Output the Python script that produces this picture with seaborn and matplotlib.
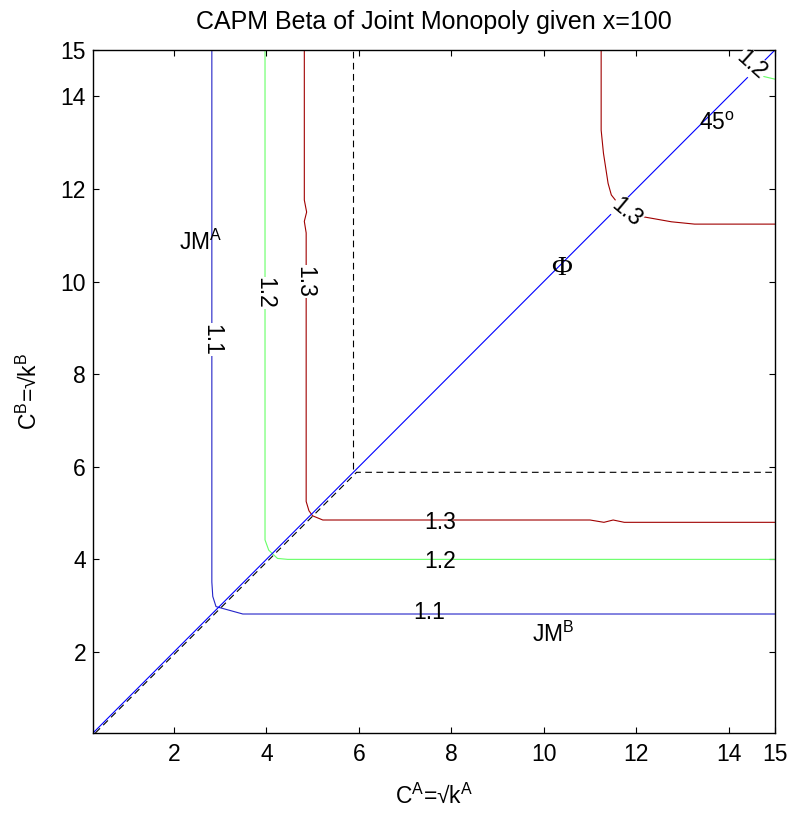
import numpy as np
import pandas as pd
import matplotlib
matplotlib.use("Agg")
import matplotlib.pyplot as plt
import seaborn as sns

# contour lines (x = C^A, y = C^B)
c11_x = [2.82, 2.82, 2.84, 2.91, 3.49, 15.0]
c11_y = [15.0, 3.51, 3.20, 2.98, 2.82, 2.82]
c12_x = [3.97, 3.97, 4.05, 4.24, 4.46, 15.0]
c12_y = [15.0, 4.42, 4.20, 4.02, 4.00, 4.00]
c12b_x = [14.37, 14.45, 15.0]
c12b_y = [15.0, 14.5, 14.37]
c13_x = [4.82, 4.82, 4.87, 4.82, 4.86, 4.86, 4.92, 5.00, 5.22, 11.0, 11.3, 11.5, 11.74, 15.0]
c13_y = [15.0, 11.76, 11.5, 11.3, 11.05, 5.25, 5.05, 4.94, 4.85, 4.85, 4.80, 4.85, 4.80, 4.80]
c13b_x = [11.24, 11.24, 11.29, 11.39, 11.46, 11.57, 11.72, 12.14, 12.76, 13.26, 15.0]
c13b_y = [15.0, 13.27, 12.77, 12.12, 11.87, 11.73, 11.60, 11.40, 11.29, 11.24, 11.24]

diag_x = [0.25, 15.0]
diag_y = [0.25, 15.0]
dash_x = [0.30, 5.95, 15.0]
dash_y = [0.25, 5.88, 5.88]
dashv_x = [5.88, 5.88]
dashv_y = [5.95, 15.0]

xticks = [2, 4, 6, 8, 10, 12, 14, 15]
yticks = [2, 4, 6, 8, 10, 12, 14, 15]

sns.set_style("ticks", {'text.color': 'black', 'axes.labelcolor': 'black',
                        'xtick.color': 'black', 'ytick.color': 'black',
                        'axes.edgecolor': 'black'})
plt.rcParams['font.family'] = ['Liberation Sans', 'DejaVu Sans']
plt.rcParams['mathtext.fontset'] = 'custom'
plt.rcParams['mathtext.rm'] = 'Liberation Sans'
plt.rcParams['mathtext.it'] = 'Liberation Sans'

fig = plt.figure(figsize=(7.93, 8.17), dpi=100)
ax = fig.add_axes([0.1173, 0.1028, 0.86, 0.836])

blue = '#2424c8'
green = '#66ff66'
red = '#a00000'

def line(x, y, color, ls='-', lw=0.8):
    sns.lineplot(x=x, y=y, sort=False, estimator=None, color=color,
                 linestyle=ls, linewidth=lw, ax=ax)

line(c11_x, c11_y, blue)
line(c12_x, c12_y, green)
line(c12b_x, c12b_y, green)
line(c13_x, c13_y, red)
line(c13b_x, c13b_y, red)
line(diag_x, diag_y, '#0000ff')
line(dash_x, dash_y, 'black', ls=(0, (6, 4)))
line(dashv_x, dashv_y, 'black', ls=(0, (6, 4)))

bbox = dict(facecolor='white', edgecolor='none', pad=0.3)
fs = 16.5
# vertical labels
ax.text(2.82, 8.74, '1.1', rotation=-90, ha='center', va='center', fontsize=fs, bbox=bbox)
ax.text(3.97, 9.75, '1.2', rotation=-90, ha='center', va='center', fontsize=fs, bbox=bbox)
ax.text(4.84, 10.0, '1.3', rotation=-90, ha='center', va='center', fontsize=fs, bbox=bbox)
# horizontal labels
ax.text(7.76, 4.79, '1.3', ha='center', va='center', fontsize=fs)
ax.text(7.76, 3.95, '1.2', ha='center', va='center', fontsize=fs)
ax.text(7.52, 2.85, '1.1', ha='center', va='center', fontsize=fs)
# diagonal labels
ax.text(11.8, 11.5, '1.3', rotation=-40, ha='center', va='center', fontsize=fs, bbox=bbox)
ax.text(14.5, 14.68, '1.2', rotation=-42, ha='center', va='center', fontsize=fs, bbox=bbox)

ax.text(2.1, 10.68, r'JM$^{\mathrm{A}}$', ha='left', va='baseline', fontsize=fs)
ax.text(9.75, 2.22, r'JM$^{\mathrm{B}}$', ha='left', va='baseline', fontsize=fs)
ax.text(10.38, 10.29, '\u03a6', ha='center', va='center', fontsize=fs + 4,
        family='Liberation Serif')
ax.text(13.36, 13.27, r'45$^{\mathrm{o}}$', ha='left', va='baseline', fontsize=fs)

ax.set_xlim(0.25, 15)
ax.set_ylim(0.25, 15)
ax.set_xticks(xticks)
ax.set_yticks(yticks)
ax.set_xticklabels([str(t) for t in xticks])
ax.set_yticklabels([str(t) for t in yticks])
ax.tick_params(direction='in', top=True, right=True, length=4.5, width=0.8,
               labelsize=fs, colors='black')
ax.tick_params(axis='x', pad=7)
ax.tick_params(axis='y', pad=5)
for s in ax.spines.values():
    s.set_linewidth(1.0)
    s.set_color('black')

ax.set_title('CAPM Beta of Joint Monopoly given x=100', fontsize=18, pad=15)
ax.set_xlabel('C$^{\\mathrm{A}}$=\u221ak$^{\\mathrm{A}}$', fontsize=fs, labelpad=13)
ax.set_ylabel('C$^{\\mathrm{B}}$=\u221ak$^{\\mathrm{B}}$', fontsize=fs, labelpad=14)

fig.savefig('out.png', dpi=100)
